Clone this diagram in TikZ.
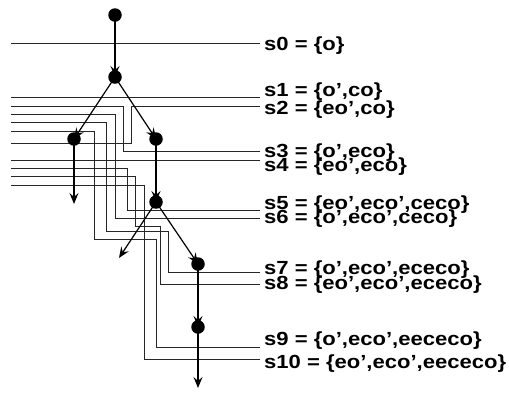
\documentclass[tikz,border=0pt]{standalone}
\usepackage{fontspec}
\newfontfamily\lblfont[FakeStretch=1.16]{Liberation Sans}
\usetikzlibrary{arrows.meta}
\tikzset{
  dot/.style={circle,fill=black,inner sep=0pt,minimum size=13.5bp},
  arr/.style={line width=1.2bp,-{Stealth[length=11bp,width=9bp,inset=4bp]}},
  trace/.style={line width=1bp,black!85},
  lbl/.style={anchor=west,inner sep=0pt,font=\lblfont\bfseries\fontsize{19bp}{20bp}\selectfont}
}
\begin{document}
\begin{tikzpicture}[x=1bp,y=-1bp]
\useasboundingbox (0,0) rectangle (509,392);

% state traces: from the left margin through the tree to each label
\draw[trace] (11,43.3) -- (260,43.3);
\draw[trace] (11,97.3) -- (260,97.3);
\draw[trace] (260,106) -- (131.7,106) -- (131.7,143.3) -- (11,143.3);
\draw[trace] (11,106) -- (123.3,106) -- (123.3,151.7) -- (260,151.7);
\draw[trace] (11,160) -- (260,160);
\draw[trace] (11,168.3) -- (127.7,168.3) -- (127.7,210) -- (260,210);
\draw[trace] (11,114.3) -- (115,114.3) -- (115,218.3) -- (260,218.3);
\draw[trace] (11,122.7) -- (106.7,122.7) -- (106.7,231) -- (168.3,231) -- (168.3,272.7) -- (260,272.7);
\draw[trace] (11,176.7) -- (135.7,176.7) -- (135.7,226.7) -- (160.7,226.7) -- (160.7,284.3) -- (260,284.3);
\draw[trace] (11,131) -- (94.3,131) -- (94.3,239.3) -- (156.7,239.3) -- (156.7,347.3) -- (260,347.3);
\draw[trace] (11,185) -- (144,185) -- (144,359.3) -- (260,359.3);

% labels
\node[lbl] (l0)  at (264,46)  {s0 = \{o\}};
\node[lbl] (l1)  at (264,92)  {s1 = \{o’,co\}};
\node[lbl] (l2)  at (264,110) {s2 = \{eo’,co\}};
\node[lbl] (l3)  at (264,153) {s3 = \{o’,eco\}};
\node[lbl] (l4)  at (264,167) {s4 = \{eo’,eco\}};
\node[lbl] (l5)  at (264,205) {s5 = \{eo’,eco’,ceco\}};
\node[lbl] (l6)  at (264,219) {s6 = \{o’,eco’,ceco\}};
\node[lbl] (l7)  at (264,270) {s7 = \{o’,eco’,ececo\}};
\node[lbl] (l8)  at (264,285) {s8 = \{eo’,eco’,ececo\}};
\node[lbl] (l9)  at (264,341) {s9 = \{o’,eco’,eececo\}};
\node[lbl] (l10) at (264,364) {s10 = \{eo’,eco’,eececo\}};

% tree
\node[dot] (n0) at (115,15) {};
\node[dot] (n1) at (115,77) {};
\node[dot] (n2) at (74,139) {};
\node[dot] (n3) at (156,139) {};
\node[dot] (n4) at (156,202) {};
\node[dot] (n5) at (198,264) {};
\node[dot] (n6) at (198,327) {};
\coordinate (e2) at (74,204);
\coordinate (e4) at (119,258);
\coordinate (e6) at (198,388);

\draw[arr] (n0.center) -- (n1.center);
\draw[arr] (n1.center) -- (n2.center);
\draw[arr] (n1.center) -- (n3.center);
\draw[arr] (n2.center) -- (e2);
\draw[arr] (n3.center) -- (n4.center);
\draw[arr] (n4.center) -- (e4);
\draw[arr] (n4.center) -- (n5.center);
\draw[arr] (n5.center) -- (n6.center);
\draw[arr] (n6.center) -- (e6);
\end{tikzpicture}
\end{document}
